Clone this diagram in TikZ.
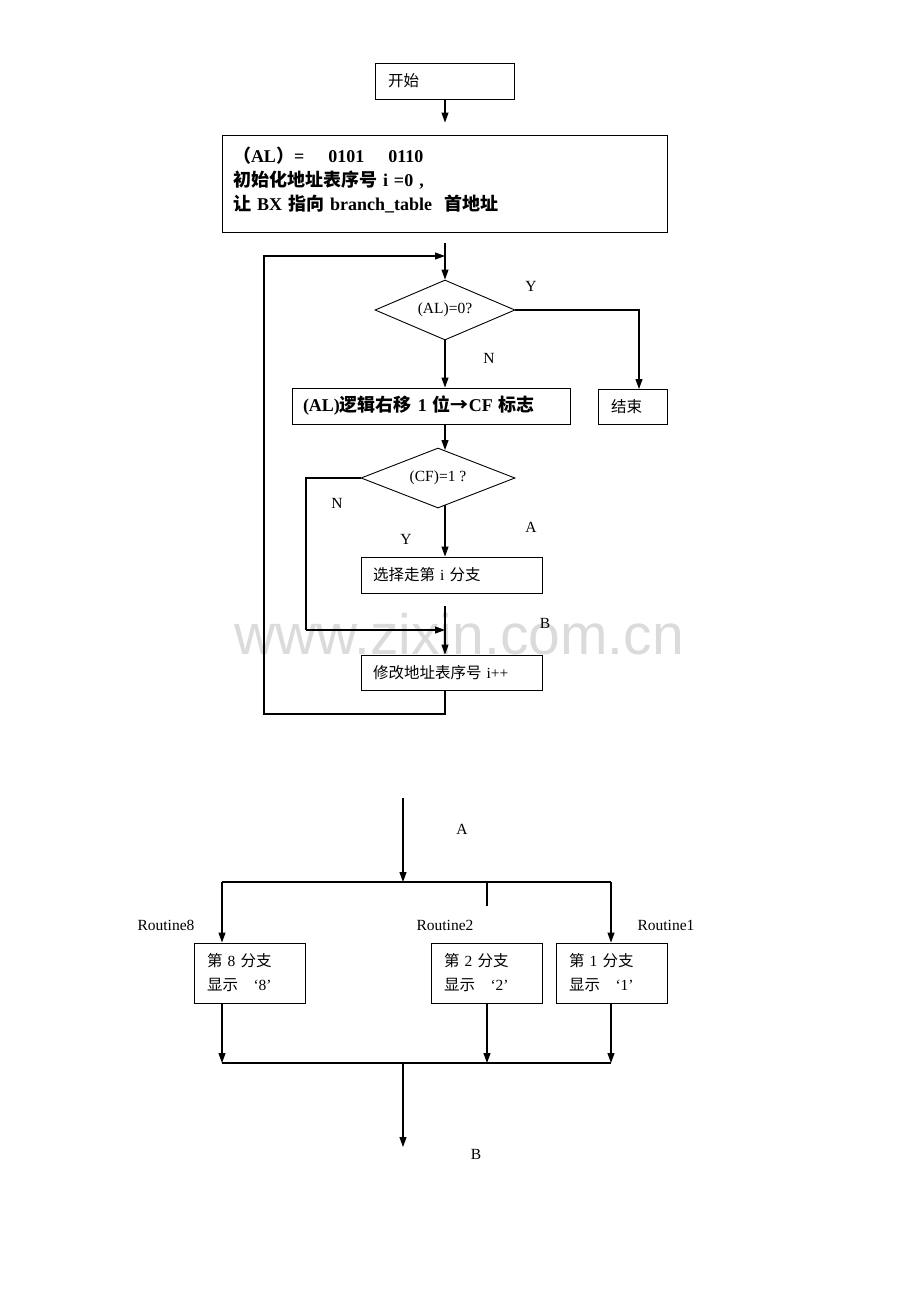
\documentclass[tikz,border=0pt]{standalone}
\usepackage{fontspec}
\setmainfont{Liberation Serif}
\newfontfamily\cjk{Noto Sans CJK SC}
\newfontfamily\wmfont{Liberation Sans}
\usetikzlibrary{arrows.meta,shapes.geometric}
\begin{document}
\begin{tikzpicture}[x=1pt,y=-1pt,
  line/.style={line width=1.1pt},
  arr/.style={line width=1.1pt,-{Triangle[length=10pt,width=7pt]}},
  box/.style={draw,line width=0.9pt,inner ysep=0pt,align=left,font=\fontsize{15.5}{20}\selectfont},
  bbox/.style={box,font=\fontsize{18}{24}\selectfont\bfseries},
  dia/.style={draw,diamond,aspect=2.33,inner sep=0pt,line width=0.9pt,font=\fontsize{15.5}{18}\selectfont},
  lab/.style={inner sep=0pt,font=\fontsize{15.5}{18}\selectfont}]
\useasboundingbox (0,0) rectangle (920,1302);
\node[text=black!14,inner sep=0pt,font=\wmfont\fontsize{57}{60}\selectfont] (wm) at (459,634) {www.zixin.com.cn};

% boxes
\node[box,minimum width=139pt,minimum height=36pt,text width=113pt,inner xsep=13pt] (start) at (444.5,81) {{\cjk 开始}};
\node[bbox,minimum width=445pt,minimum height=97pt,text width=423pt,inner xsep=11pt] (init) at (444.5,183.5)
  {{\cjk （}AL{\cjk ）}=\ \ \ \ 0101\ \ \ \ 0110\\{\cjk 初始化地址表序号} i =0 ,\\{\cjk 让} BX {\cjk 指向} branch\_table\ \ {\cjk 首地址}\\[-14pt]\mbox{}};
\node[dia,minimum width=140pt,minimum height=60pt] (d1) at (445,310) {(AL)=0?};
\node[bbox,minimum width=278pt,minimum height=36pt,text width=256pt,inner xsep=11pt] (shift) at (431,406)
  {(AL){\cjk 逻辑右移} 1 {\cjk 位→}CF {\cjk 标志}};
\node[box,minimum width=69pt,minimum height=35pt,text width=43pt,inner xsep=13pt] (end) at (632.5,406.5) {{\cjk 结束}};
\node[dia,minimum width=154pt,minimum height=60pt] (d2) at (438,478) {(CF)=1 ?};
\node[box,minimum width=181pt,minimum height=36pt,text width=157pt,inner xsep=12pt] (select) at (451.5,575) {{\cjk 选择走第} i {\cjk 分支}};
\node[box,minimum width=181pt,minimum height=35pt,text width=157pt,inner xsep=12pt] (modify) at (451.5,672.5) {{\cjk 修改地址表序号} i++};

\node[box,minimum width=111pt,minimum height=60pt,text width=85pt,inner xsep=13pt,font=\fontsize{15.5}{24}\selectfont] (b8) at (249.5,973) {{\cjk 第} 8 {\cjk 分支}\\{\cjk 显示}\ \ \ ‘8’};
\node[box,minimum width=111pt,minimum height=60pt,text width=85pt,inner xsep=13pt,font=\fontsize{15.5}{24}\selectfont] (b2) at (486.5,973) {{\cjk 第} 2 {\cjk 分支}\\{\cjk 显示}\ \ \ ‘2’};
\node[box,minimum width=111pt,minimum height=60pt,text width=85pt,inner xsep=13pt,font=\fontsize{15.5}{24}\selectfont] (b1) at (611.5,973) {{\cjk 第} 1 {\cjk 分支}\\{\cjk 显示}\ \ \ ‘1’};

% coordinates
\coordinate (c1) at (445,243);
\coordinate (lpA) at (264,714);
\coordinate (lpB) at (264,256);
\coordinate (lpE) at (445,256);
\coordinate (ey) at (639,389);
\coordinate (nA) at (306,478);
\coordinate (nB) at (306,630);
\coordinate (nE) at (445,630);
\coordinate (yS) at (445,505);
\coordinate (c2) at (445,606);
\coordinate (d2t) at (445,450);

% connectors top
\draw[arr,shorten >=12pt] (start.south -| c1) -- (init.north -| c1);
\draw[arr] (c1) -- (d1.north);
\draw[arr] (modify.south -| c1) -- (c1 |- lpA) -- (lpA) -- (lpB) -- (lpE);
\draw[arr] (d1.east) -| (ey);
\draw[arr] (d1.south) -- (d1.south |- shift.north);
\draw[arr] (shift.south -| c1) -- (d2t);
\draw[line] (d2.west) -- (nA |- d2.west) -- (nB);
\draw[arr] (nB) -- (nE);
\draw[arr] (yS) -- (select.north -| yS);
\draw[arr] (c2) -- (modify.north -| c2);

% labels top
\node[lab] (ly1) at (531,286) {Y};
\node[lab] (ln1) at (489,358) {N};
\node[lab] (ln2) at (337,503) {N};
\node[lab] (ly2) at (406,539) {Y};
\node[lab] (la1) at (531,527) {A};
\node[lab] (lb1) at (545,623) {B};

% bottom part
\coordinate (top) at (403,798);
\coordinate (split) at (403,882);
\coordinate (sL) at (222,882);
\coordinate (sR) at (611,882);
\coordinate (tk) at (487,882);
\coordinate (tkE) at (487,906);
\coordinate (jL) at (222,1063);
\coordinate (jM2) at (487,1063);
\coordinate (jR) at (611,1063);
\coordinate (jM) at (403,1063);
\coordinate (bot) at (403,1147);

\draw[arr] (top) -- (split);
\draw[line] (sL) -- (sR);
\draw[line] (tk) -- (tkE);
\draw[arr] (sL) -- (sL |- b8.north);
\draw[arr] (sR) -- (sR |- b1.north);
\draw[arr] (b8.south -| jL) -- (jL);
\draw[arr] (b2.south -| jM2) -- (jM2);
\draw[arr] (b1.south -| jR) -- (jR);
\draw[line] (jL) -- (jR);
\draw[arr] (jM) -- (bot);

\node[lab] (la2) at (462,829) {A};
\node[lab] (r8) at (166,925) {Routine8};
\node[lab] (r2) at (445,925) {Routine2};
\node[lab] (r1) at (666,925) {Routine1};
\node[lab] (lb2) at (476,1154) {B};
\end{tikzpicture}
\end{document}
